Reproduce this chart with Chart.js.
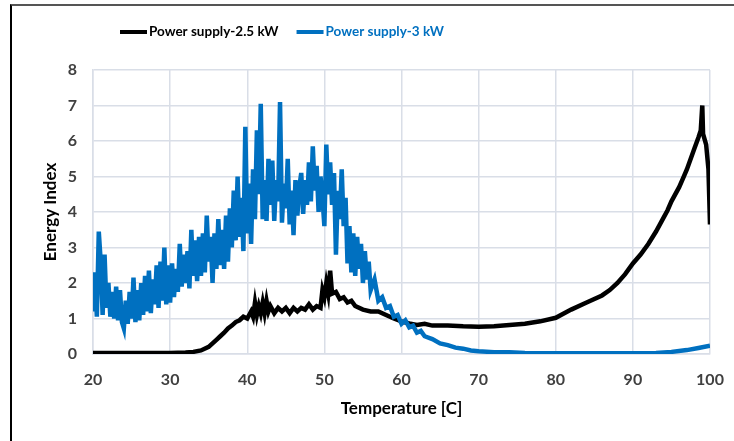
<!DOCTYPE html>
<html>
<head>
<meta charset="utf-8">
<title>Energy Index vs Temperature</title>
<script src="https://cdn.jsdelivr.net/npm/chart.js@4"></script>
<style>
  html, body { margin: 0; padding: 0; background: #fff; }
  #wrap { position: relative; width: 734px; height: 441px; overflow: hidden; }
  #frame { position: absolute; left: 10px; top: 4px; right: -4px; bottom: -4px;
           border-left: 2px solid #000; border-top: 2px solid #555; }
  canvas { position: absolute; left: 0; top: 0; }
</style>
</head>
<body>
<div id="wrap">
  <div id="frame"></div>
  <canvas id="chart" width="734" height="441"></canvas>
</div>
<script>
// series labels
const seriesNames = ['Power supply-2.5 kW', 'Power supply-3 kW'];

// 2.5 kW (black)
const blackTemps = [20,25,30,32,33,34,35,35.5,36,36.5,37,37.5,38,38.5,39,39.5,40,
  40.5,40.75,41,41.25,41.5,41.75,42,42.25,42.5,42.75,43,43.5,44,44.5,45,45.5,46,46.5,47,47.5,
  48,48.5,49,49.5,49.75,50,50.25,50.5,50.75,51,51.5,52,52.5,53,53.5,54,55,56,57,58,
  59,60,61,62,63,64,66,68,70,72,74,76,78,80,82,84,86,87,88,89,
  90,91,92,93,94,94.5,95,96,96.5,97,98,98.5,98.8,99,99.1,99.5,99.8,100];
const blackValues = [0.03,0.03,0.03,0.04,0.06,0.1,0.2,0.3,0.4,0.5,0.6,0.72,0.8,0.9,0.95,1.05,1.0,
  1.2,1.05,1.45,1.1,1.35,1.15,1.45,1.15,1.5,1.2,1.35,1.15,1.3,1.2,1.3,1.15,1.3,1.2,1.3,1.25,
  1.4,1.25,1.35,1.3,1.8,1.6,2.0,1.7,2.35,1.7,1.75,1.55,1.6,1.45,1.5,1.35,1.25,1.2,1.2,1.1,
  1.0,0.92,0.86,0.82,0.85,0.8,0.8,0.78,0.77,0.78,0.82,0.85,0.92,1.02,1.25,1.45,1.65,1.8,2.0,2.25,
  2.55,2.8,3.1,3.45,3.85,4.05,4.3,4.7,4.95,5.2,5.8,6.1,6.3,7.0,6.2,5.9,5.2,3.65];

// 3 kW (blue)
const blueTemps = [
  20,20.25,20.5,20.75, 21,21.25,21.5,21.75, 22,22.25,22.5,22.75, 23,23.25,23.5,23.75,
  24,24.25,24.5,24.75, 25,25.25,25.5,25.75, 26,26.25,26.5,26.75, 27,27.25,27.5,27.75,
  28,28.25,28.5,28.75, 29,29.25,29.5,29.75, 30,30.25,30.5,30.75, 31,31.25,31.5,31.75,
  32,32.25,32.5,32.75, 33,33.25,33.5,33.75, 34,34.25,34.5,34.75, 35,35.25,35.5,35.75,
  36,36.25,36.5,36.75, 37,37.25,37.5,37.75, 38,38.25,38.5,38.75, 39,39.25,39.5,39.75,
  40,40.25,40.5,40.75, 41,41.25,41.5,41.75, 42,42.25,42.5,42.75, 43,43.25,43.5,43.75,
  44,44.25,44.5,44.75, 45,45.25,45.5,45.75, 46,46.25,46.5,46.75, 47,47.25,47.5,47.75,
  48,48.25,48.5,48.75, 49,49.25,49.5,49.75, 50,50.25,50.5,50.75, 51,51.25,51.5,51.75,
  52,52.25,52.5,52.75, 53,53.25,53.5,53.75, 54,54.25,54.5,54.75, 55,55.25,55.5,55.75,
  56,56.5,57,57.5,58,58.5,59,59.5,60,60.5,61,61.5,62,62.5,63,64,65,66,67,68,69,70,
  72,74,76,80,85,90,93,95,97,98.5,100];
const blueValues = [
  1.2,2.3,1.05,3.45, 2.6,1.1,2.8,1.3, 2.0,1.05,1.75,1.0, 1.9,0.95,1.8,0.9,
  0.72,1.5,0.85,1.75, 1.0,2.15,0.9,1.8, 0.95,2.0,1.1,2.2, 1.2,2.35,1.15,2.1,
  1.4,2.5,1.3,2.6, 1.5,3.0,1.4,2.5, 1.45,2.55,1.6,2.4, 1.75,3.1,1.9,2.8,
  2.0,2.9,1.85,3.5, 2.2,3.2,2.05,3.3, 2.2,3.4,2.3,3.9, 2.6,3.3,2.0,3.4,
  2.4,3.8,2.5,3.5, 2.4,3.9,2.6,4.1, 3.0,4.6,3.2,5.0, 3.3,4.4,2.9,6.4,
  3.4,4.8,3.1,5.2, 3.8,6.3,4.5,7.05, 3.8,4.9,3.75,5.5, 4.2,5.45,3.75,4.9,
  4.3,7.1,3.7,4.8, 4.1,5.5,3.65,4.6, 3.35,4.9,3.9,4.7, 5.1,3.95,4.9,4.2,
  5.4,4.3,5.85,4.6, 5.3,4.0,5.0,4.4, 3.6,5.9,4.5,5.4, 4.2,5.1,2.8,4.6,
  3.8,5.2,3.6,4.4, 2.55,3.6,2.3,3.4, 2.2,3.3,2.4,3.1, 2.0,2.9,2.1,2.6,
  1.8,2.1,1.5,1.6,1.3,1.35,1.05,1.1,0.85,0.95,0.75,0.8,0.6,0.65,0.5,0.42,0.3,0.25,0.18,0.15,0.1,0.08,
  0.05,0.05,0.03,0.02,0.02,0.02,0.03,0.06,0.11,0.17,0.23];

// axes
const xTicks = [20, 30, 40, 50, 60, 70, 80, 90, 100];
const yTicks = [0, 1, 2, 3, 4, 5, 6, 7, 8];

const black = '#000000';
const blue = '#0070C0';
const gridColor = '#d9dee7';
const tickFont = { family: 'Lato', size: 16, weight: 'bold' };
const titleFont = { family: 'Lato', size: 17, weight: 'bold' };

function toPoints(xs, ys) {
  return xs.map(function (x, i) { return { x: x, y: ys[i] }; });
}

// legend drawn by hand: line sample + coloured label, left of centre
const topLegend = {
  id: 'topLegend',
  afterDraw: function (chart) {
    const ctx = chart.ctx;
    let x = 120;
    const y = 32;
    ctx.save();
    ctx.font = 'bold 13.5px Lato';
    ctx.textBaseline = 'middle';
    chart.data.datasets.forEach(function (ds) {
      ctx.strokeStyle = ds.borderColor;
      ctx.lineWidth = 4;
      ctx.beginPath();
      ctx.moveTo(x, y);
      ctx.lineTo(x + 27, y);
      ctx.stroke();
      ctx.fillStyle = ds.borderColor;
      ctx.fillText(ds.label, x + 29, y);
      x += 29 + ctx.measureText(ds.label).width + 18;
    });
    ctx.restore();
  }
};

new Chart(document.getElementById('chart'), {
  type: 'line',
  data: {
    datasets: [{
      label: seriesNames[0],
      data: toPoints(blackTemps, blackValues),
      borderColor: black,
      backgroundColor: black,
      borderWidth: 4.5,
      pointRadius: 0,
      tension: 0,
      order: 2
    }, {
      label: seriesNames[1],
      data: toPoints(blueTemps, blueValues),
      borderColor: blue,
      backgroundColor: blue,
      borderWidth: 4.5,
      pointRadius: 0,
      tension: 0,
      order: 1
    }]
  },
  plugins: [topLegend],
  options: {
    responsive: false,
    animation: false,
    layout: { padding: { left: 0, right: 24, top: 70, bottom: 0 } },
    plugins: {
      tooltip: { enabled: false },
      legend: { display: false }
    },
    scales: {
      x: {
        type: 'linear',
        min: 20,
        max: 100,
        afterBuildTicks: function (scale) {
          scale.ticks = xTicks.map(function (v) { return { value: v }; });
        },
        afterFit: function (scale) {
          scale.height = 87;
          scale.paddingLeft = 0;
          scale.paddingRight = 0;
        },
        grid: { color: gridColor, lineWidth: 1.5, drawTicks: false },
        border: { color: gridColor, width: 1.5 },
        ticks: { font: tickFont, color: '#404040', padding: 16, maxRotation: 0 },
        title: { display: true, text: 'Temperature [C]', font: titleFont, color: black,
                 padding: { top: 0, bottom: 22 } }
      },
      y: {
        min: 0,
        max: 8,
        afterBuildTicks: function (scale) {
          scale.ticks = yTicks.map(function (v) { return { value: v }; });
        },
        afterFit: function (scale) { scale.width = 93; },
        grid: { color: gridColor, lineWidth: 1.5, drawTicks: false },
        border: { color: gridColor, width: 1.5 },
        ticks: { font: tickFont, color: '#404040', padding: 16 },
        title: { display: true, text: 'Energy Index', font: titleFont, color: black,
                 padding: { top: 40, bottom: 0 } }
      }
    }
  }
});
</script>
</body>
</html>
